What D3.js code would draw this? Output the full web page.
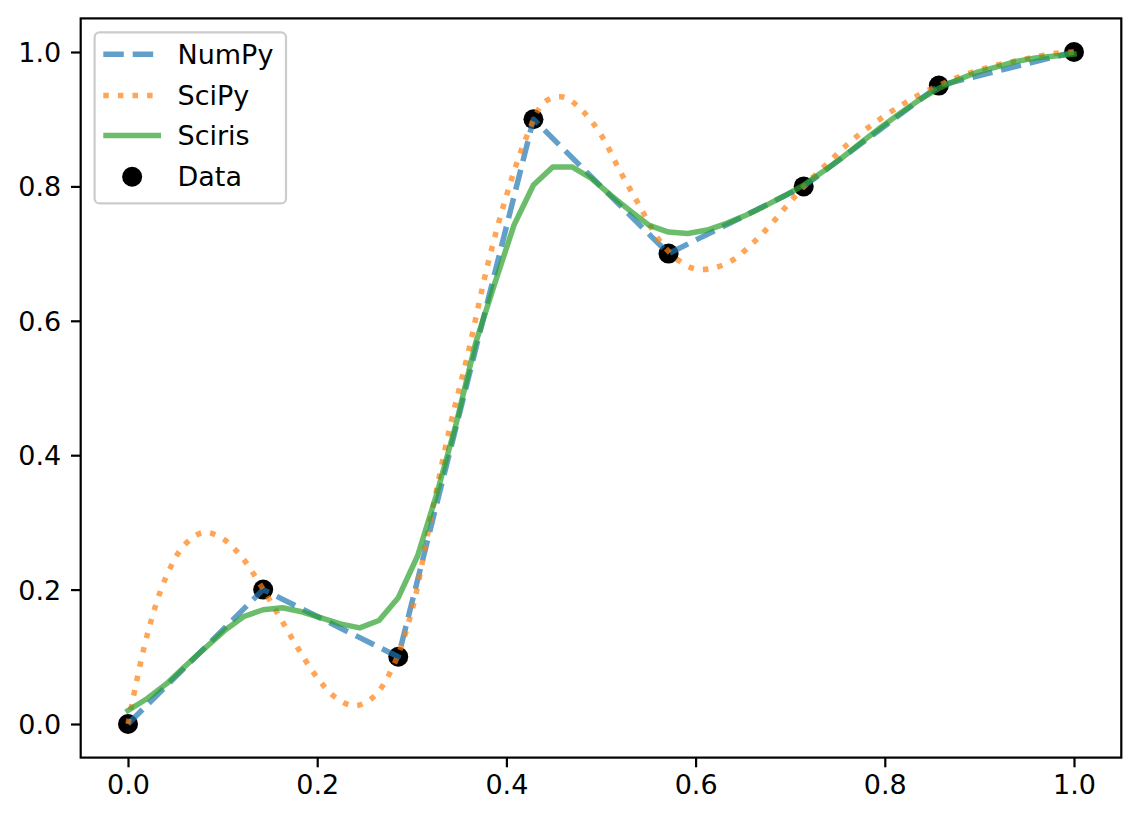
<!DOCTYPE html>
<html>
<head>
<meta charset="utf-8">
<script src="https://cdn.jsdelivr.net/npm/d3@7"></script>
<style>
  html, body { margin: 0; padding: 0; background: #ffffff; }
  svg { display: block; }
  text { font-family: "DejaVu Sans", sans-serif; fill: #000; }
</style>
</head>
<body>
<svg id="chart" width="1141" height="822"></svg>
<script>
// ---------------- data ----------------
const dataX = [0, 0.1429, 0.2857, 0.4286, 0.5714, 0.7143, 0.8571, 1.0];
const dataY = [0, 0.2, 0.1, 0.9, 0.7, 0.8, 0.95, 1.0];

// NumPy (linear interpolation through the data)
const numpyX = dataX;
const numpyY = [0, 0.2, 0.1, 0.9, 0.7, 0.8, 0.95, 1.0];

// SciPy (cubic)
const scipyX = [0, 0.02, 0.04, 0.06, 0.08, 0.10, 0.12, 0.14, 0.16, 0.18,
                0.20, 0.22, 0.24, 0.26, 0.28, 0.30, 0.32, 0.34, 0.36, 0.38,
                0.40, 0.42, 0.44, 0.46, 0.48, 0.50, 0.52, 0.54, 0.56, 0.58,
                0.60, 0.62, 0.64, 0.66, 0.68, 0.70, 0.72, 0.74, 0.76, 0.78,
                0.80, 0.82, 0.84, 0.86, 0.88, 0.90, 0.92, 0.94, 0.96, 0.98, 1.0];
const scipyY = [0, 0.131, 0.218, 0.267, 0.285, 0.276, 0.249, 0.207, 0.160, 0.112,
                0.069, 0.039, 0.027, 0.041, 0.085, 0.168, 0.306, 0.440, 0.555, 0.682,
                0.786, 0.869, 0.925, 0.933, 0.913, 0.877, 0.823, 0.773, 0.723, 0.692,
                0.677, 0.679, 0.691, 0.715, 0.744, 0.777, 0.808, 0.835, 0.862, 0.885,
                0.905, 0.923, 0.939, 0.952, 0.964, 0.973, 0.981, 0.987, 0.993, 0.998, 1.0];

// Sciris (smoothinterp)
const scirisX = [0, 0.0204, 0.0408, 0.0612, 0.0816, 0.1020, 0.1224, 0.1429, 0.1633, 0.1837,
                 0.2041, 0.2245, 0.2449, 0.2653, 0.2857, 0.3061, 0.3265, 0.3469, 0.3673, 0.3878,
                 0.4082, 0.4286, 0.4490, 0.4694, 0.4898, 0.5102, 0.5306, 0.5510, 0.5714, 0.5918,
                 0.6122, 0.6327, 0.6531, 0.6735, 0.6939, 0.7143, 0.7347, 0.7551, 0.7755, 0.7959,
                 0.8163, 0.8367, 0.8571, 0.8776, 0.8980, 0.9184, 0.9388, 0.9592, 0.9796, 1.0];
const scirisY = [0.020, 0.038, 0.060, 0.087, 0.113, 0.139, 0.160, 0.170, 0.173, 0.167,
                 0.158, 0.149, 0.143, 0.154, 0.188, 0.250, 0.343, 0.447, 0.566, 0.656,
                 0.743, 0.802, 0.829, 0.829, 0.812, 0.787, 0.764, 0.742, 0.732, 0.730,
                 0.735, 0.745, 0.757, 0.771, 0.786, 0.802, 0.822, 0.843, 0.866, 0.888,
                 0.909, 0.929, 0.946, 0.959, 0.970, 0.978, 0.986, 0.991, 0.994, 0.997];

const xTicks = [0, 0.2, 0.4, 0.6, 0.8, 1.0];
const xTickLabels = ["0.0", "0.2", "0.4", "0.6", "0.8", "1.0"];
const yTicks = [0, 0.2, 0.4, 0.6, 0.8, 1.0];
const yTickLabels = ["0.0", "0.2", "0.4", "0.6", "0.8", "1.0"];

const legendLabels = ["NumPy", "SciPy", "Sciris", "Data"];

// ---------------- layout ----------------
const svg = d3.select("#chart");
const W = 1141, H = 822;
const plot = { left: 80.7, top: 18.4, width: 1040.6, height: 739.2 };
const FS = 27;
const LW = 5.5;

const x = d3.scaleLinear().domain([-0.05, 1.05]).range([plot.left, plot.left + plot.width]);
const y = d3.scaleLinear().domain([-0.05, 1.05]).range([plot.top + plot.height, plot.top]);

svg.append("rect").attr("width", W).attr("height", H).attr("fill", "#ffffff");

const styles = {
  numpy:  { color: "#1f77b4", dash: "20.5,8.9" },
  scipy:  { color: "#ff7f0e", dash: "5.5,9.1" },
  sciris: { color: "#2ca02c", dash: null }
};

const g = svg.append("g");
const clipId = "plotclip";
svg.append("clipPath").attr("id", clipId).append("rect")
  .attr("x", plot.left).attr("y", plot.top).attr("width", plot.width).attr("height", plot.height);
g.attr("clip-path", `url(#${clipId})`);

// scatter first (zorder 1)
g.selectAll("circle.data").data(dataX.map((d, i) => [d, dataY[i]])).enter()
  .append("circle").attr("class", "data")
  .attr("cx", d => x(d[0])).attr("cy", d => y(d[1])).attr("r", 10).attr("fill", "#000");

function drawLine(xs, ys, st, curve) {
  const line = d3.line().x(d => x(d[0])).y(d => y(d[1])).curve(curve);
  const p = g.append("path")
    .attr("d", line(xs.map((d, i) => [d, ys[i]])))
    .attr("fill", "none")
    .attr("stroke", st.color)
    .attr("stroke-opacity", 0.7)
    .attr("stroke-width", LW)
    .attr("stroke-linejoin", "round")
    .attr("stroke-linecap", st.dash ? "butt" : "square");
  if (st.dash) p.attr("stroke-dasharray", st.dash);
}
drawLine(numpyX, numpyY, styles.numpy, d3.curveLinear);
drawLine(scipyX, scipyY, styles.scipy, d3.curveCatmullRom.alpha(0.5));
drawLine(scirisX, scirisY, styles.sciris, d3.curveLinear);

// ---------------- axes ----------------
const axisG = svg.append("g");
const xAxis = d3.axisBottom(x).tickValues(xTicks).tickFormat((d, i) => xTickLabels[i])
  .tickSize(9.7).tickPadding(7.5);
const yAxis = d3.axisLeft(y).tickValues(yTicks).tickFormat((d, i) => yTickLabels[i])
  .tickSize(9.7).tickPadding(9.7);

const gx = axisG.append("g").attr("transform", `translate(0,${plot.top + plot.height})`).call(xAxis);
const gy = axisG.append("g").attr("transform", `translate(${plot.left},0)`).call(yAxis);
[gx, gy].forEach(a => {
  a.select(".domain").remove();
  a.selectAll(".tick line").attr("stroke", "#000").attr("stroke-width", 2.2);
  a.selectAll(".tick text").attr("font-family", "DejaVu Sans").attr("font-size", FS).attr("fill", "#000");
});
gy.selectAll(".tick text").attr("dy", "0.35em");
gx.selectAll(".tick text").attr("dy", "0.71em");

// frame
svg.append("rect")
  .attr("x", plot.left).attr("y", plot.top).attr("width", plot.width).attr("height", plot.height)
  .attr("fill", "none").attr("stroke", "#000").attr("stroke-width", 2.2);

// ---------------- legend ----------------
const leg = svg.append("g");
leg.append("rect")
  .attr("x", 94.6).attr("y", 32.4).attr("width", 191.4).attr("height", 171)
  .attr("rx", 5).attr("ry", 5)
  .attr("fill", "#ffffff").attr("fill-opacity", 0.8)
  .attr("stroke", "#cccccc").attr("stroke-width", 2.2);

const rowY = [54.3, 95.6, 135.4, 176.7];
const hx0 = 103.3, hx1 = 161;
const legendStyles = [styles.numpy, styles.scipy, styles.sciris];
legendStyles.forEach((st, i) => {
  const l = leg.append("line")
    .attr("x1", hx0).attr("x2", hx1).attr("y1", rowY[i]).attr("y2", rowY[i])
    .attr("stroke", st.color).attr("stroke-opacity", 0.7).attr("stroke-width", LW);
  if (st.dash) l.attr("stroke-dasharray", st.dash);
});
leg.append("circle").attr("cx", (hx0 + hx1) / 2).attr("cy", rowY[3]).attr("r", 10).attr("fill", "#000");

legendLabels.forEach((t, i) => {
  leg.append("text").attr("x", 177.5).attr("y", rowY[i] + 9.3)
    .attr("font-size", FS).text(t);
});
</script>
</body>
</html>
